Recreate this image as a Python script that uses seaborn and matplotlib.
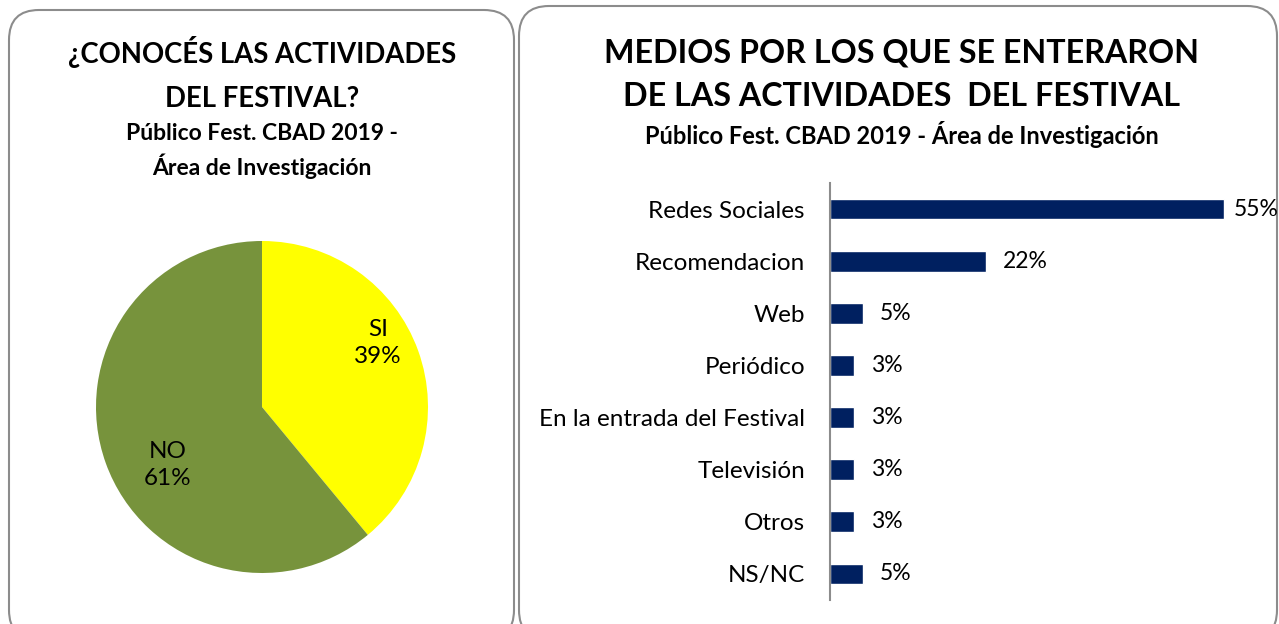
import matplotlib
matplotlib.use("Agg")
import matplotlib.pyplot as plt
from matplotlib.patches import FancyBboxPatch
import seaborn as sns
import pandas as pd

# ---- data ----
pie_labels = ["SI", "NO"]
pie_values = [39, 61]
pie_colors = ["#FFFF00", "#77933C"]

medios = ["Redes Sociales", "Recomendacion", "Web", "Periódico",
          "En la entrada del Festival", "Televisión", "Otros", "NS/NC"]
medios_pct = [55.2, 21.8, 4.6, 3.4, 3.4, 3.4, 3.4, 4.6]

left_title = "¿CONOCÉS LAS ACTIVIDADES\nDEL FESTIVAL?"
left_sub = "Público Fest. CBAD 2019 -\nÁrea de Investigación"
right_title = "MEDIOS POR LOS QUE SE ENTERARON\nDE LAS ACTIVIDADES  DEL FESTIVAL"
right_sub = "Público Fest. CBAD 2019 - Área de Investigación"

sns.set_theme(style="white")
plt.rcParams["font.family"] = ["Lato", "DejaVu Sans"]

W, H = 1279, 624
fig = plt.figure(figsize=(W / 100, H / 100), dpi=100)
fig.patch.set_facecolor("white")

# background axes in pixel units for panels and titles
bg = fig.add_axes([0, 0, 1, 1])
bg.set_xlim(0, W)
bg.set_ylim(H, 0)
bg.axis("off")
for (x0, y0, x1, y1) in [(9, 10, 514, 640), (519, 6, 1277, 640)]:
    bg.add_patch(FancyBboxPatch((x0, y0), x1 - x0, y1 - y0,
                                boxstyle="round,pad=0,rounding_size=30",
                                fc="white", ec="#8C8C8C", lw=1.5))

bg.text(262, 74, left_title, ha="center", va="center", fontsize=19.8,
        fontweight="bold", linespacing=1.85, color="black")
bg.text(262, 151, left_sub, ha="center", va="center", fontsize=16.5,
        fontweight="bold", linespacing=1.4, color="black")
bg.text(902, 75, right_title, ha="center", va="center", fontsize=23.2,
        fontweight="bold", linespacing=1.62, color="black")
bg.text(902, 135, right_sub, ha="center", va="center", fontsize=17,
        fontweight="bold", color="black")

# ---- pie ----
cx, cy, r = 262, 407, 166
pax = fig.add_axes([(cx - r) / W, (H - cy - r) / H, 2 * r / W, 2 * r / H])
wedges, _ = pax.pie(pie_values, colors=pie_colors, startangle=90,
                    counterclock=False, radius=1,
                    wedgeprops=dict(linewidth=0))
pax.set_xlim(-1, 1)
pax.set_ylim(-1, 1)
label_pos = [(0.70, 0.385), (-0.566, -0.35)]
for lab, val, (px, py) in zip(pie_labels, pie_values, label_pos):
    pax.text(px, py, f"{lab}\n{val}%", ha="center", va="center",
             fontsize=17.5, linespacing=1.35, color="black")

# ---- bars ----
df = pd.DataFrame({"medio": medios, "pct": medios_pct})
axL, axR = 830, 830 + 7.14 * 60
axT, axB = 183, 600
bax = fig.add_axes([axL / W, (H - axB) / H, (axR - axL) / W, (axB - axT) / H])
sns.barplot(data=df, y="medio", x="pct", orient="h", color="#002060",
            width=0.4, saturation=1, ax=bax)
bax.set_xlim(0, 60)
bax.set_ylim(len(medios) - 0.5, -0.5)
bax.set_xlabel("")
bax.set_ylabel("")
bax.set_xticks([])
bax.tick_params(axis="y", length=0, pad=18, labelsize=17.5)
for lab in bax.get_yticklabels():
    lab.set_color("black")
for s in ["top", "right", "bottom"]:
    bax.spines[s].set_visible(False)
bax.spines["left"].set_color("#8C8C8C")
bax.spines["left"].set_linewidth(1.5)
bax.patch.set_alpha(0)

vmax = max(medios_pct)
for i, v in enumerate(medios_pct):
    off = 10 if v == vmax else 17
    bax.annotate(f"{round(v)}%", xy=(v, i), xytext=(off * 0.72, 0),
                 textcoords="offset points", ha="left", va="center",
                 fontsize=16.5, color="black", annotation_clip=False)

fig.savefig("out.png", dpi=100, facecolor="white")
